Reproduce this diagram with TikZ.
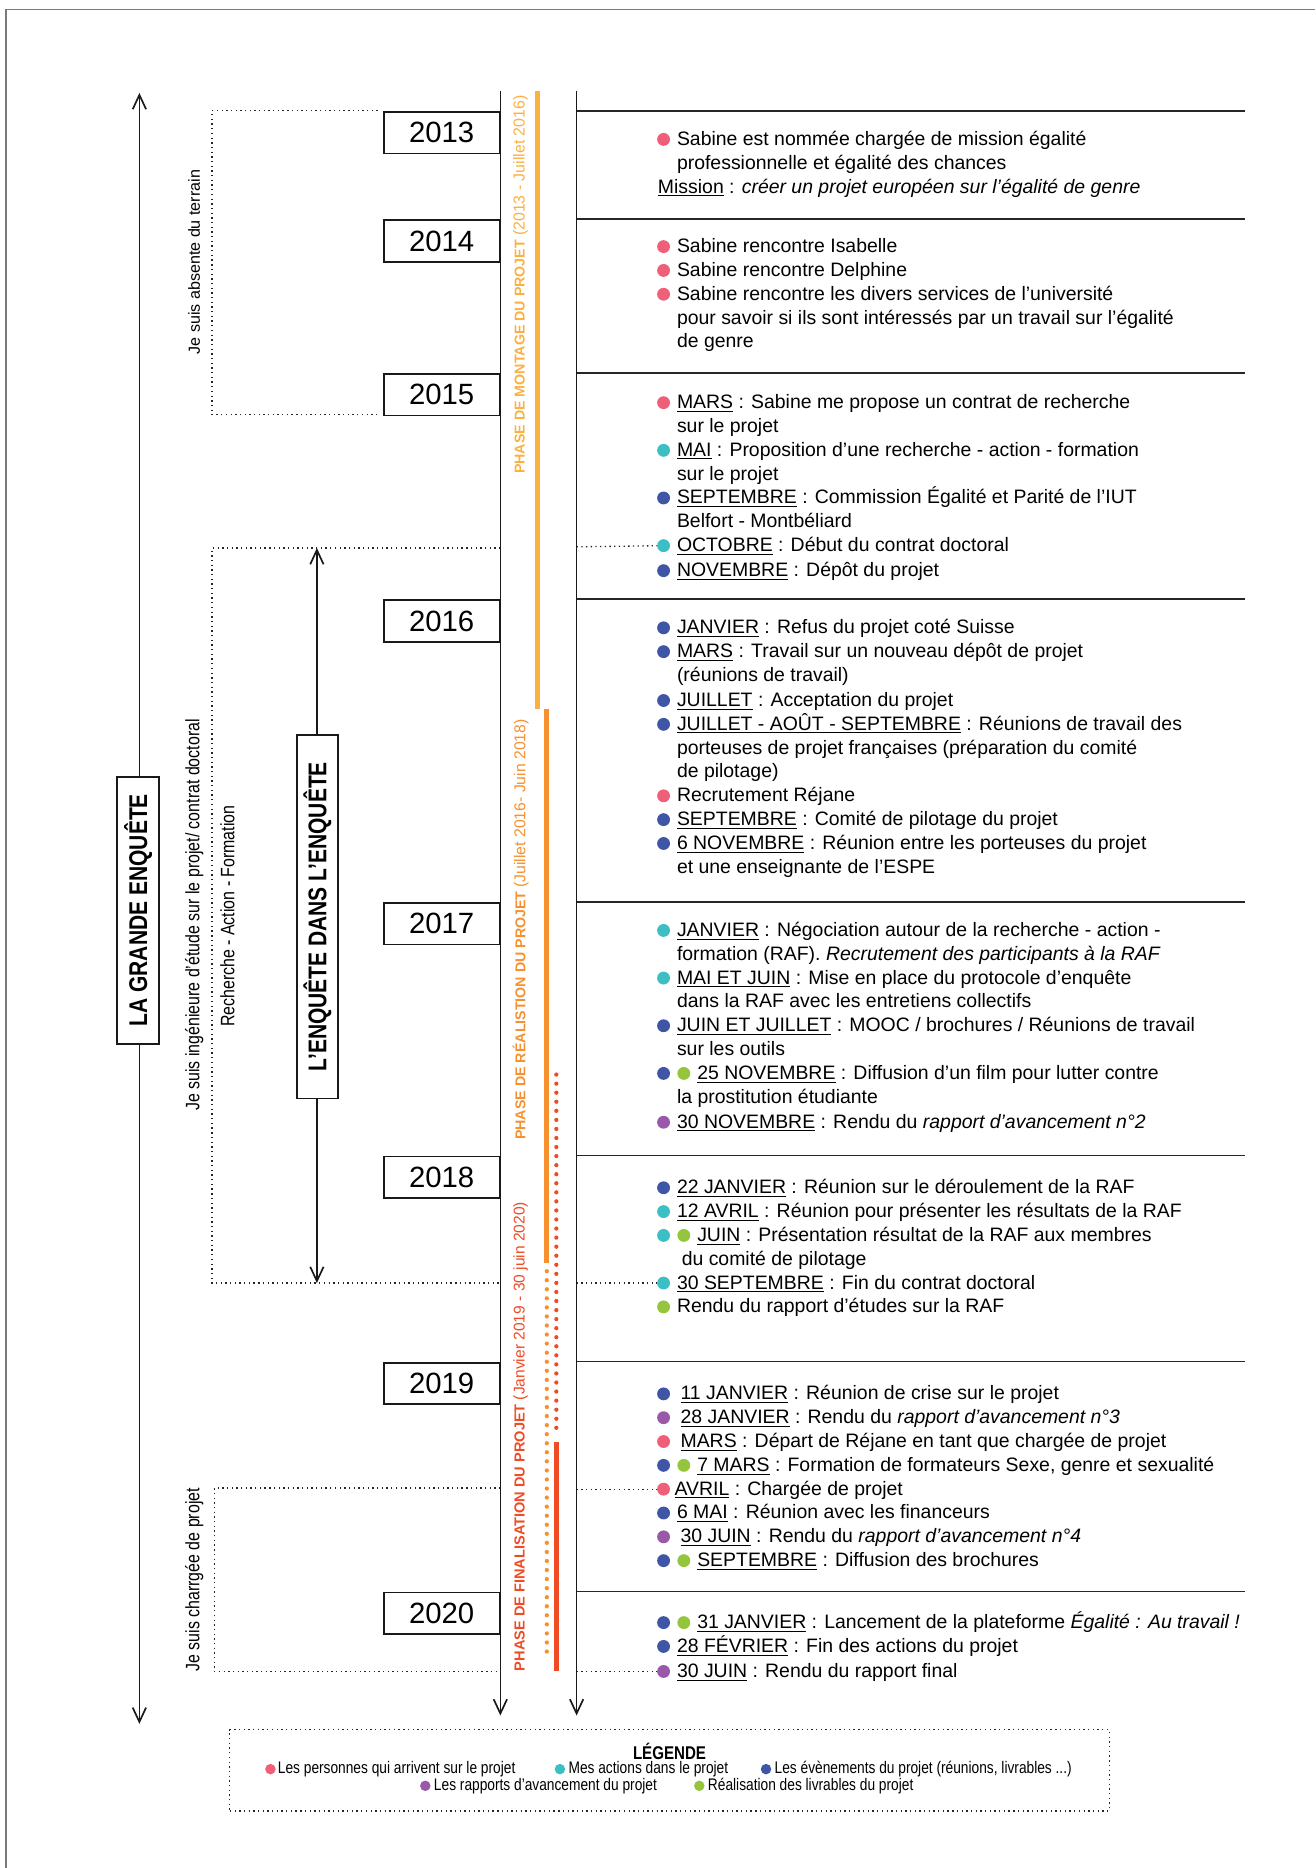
\documentclass[tikz,border=0pt]{standalone}
\usepackage{fontspec}
\setmainfont{Liberation Sans}
\newfontfamily\narrowfont{Liberation Sans}[FakeStretch=0.82]
\usetikzlibrary{arrows.meta}

\definecolor{perso}{HTML}{EF5F78}
\definecolor{action}{HTML}{3CBFC4}
\definecolor{event}{HTML}{3F56A6}
\definecolor{rapport}{HTML}{9A59A8}
\definecolor{livrable}{HTML}{95C53C}
\definecolor{montage}{HTML}{FBB040}
\definecolor{realis}{HTML}{F7902F}
\definecolor{final}{HTML}{EF4B24}
\definecolor{cadre}{HTML}{7A7A7A}

% une ligne de texte = 20 unites (0.5cm)
\tikzset{
  yearbox/.style={draw=black!90,line width=1.1pt,fill=white,minimum width=2.425cm,
    minimum height=0.875cm,inner sep=0pt,anchor=north east,font=\fontsize{17.5}{18}\selectfont},
  entry/.style={anchor=base west,align=left,inner sep=0pt,font=\fontsize{11.6}{14.226}\selectfont},
  bul/.style={circle,fill=#1,minimum size=0.27cm,inner sep=0pt},
  lbul/.style={circle,fill=#1,minimum size=0.22cm,inner sep=0pt},
  legtext/.style={anchor=west,inner sep=0pt,font=\narrowfont\fontsize{10}{11}\selectfont},
  rule/.style={line width=0.9pt,black!85},
  dotrule/.style={dotted,line width=0.8pt,black!85},
  axis/.style={->,line width=1pt,black!90},
  phasebar/.style={line width=0.1cm,#1},
  phasedots/.style={line width=0.09cm,#1,line cap=round,dash pattern=on 0pt off 0.19cm},
  phasetext/.style={rotate=90,anchor=west,inner sep=0pt,text=#1},
  sidebox/.style={draw=black!90,line width=1.1pt,fill=white,rotate=90,inner sep=0pt,
    minimum height=0.875cm,font=\narrowfont\bfseries\fontsize{15.3}{16}\selectfont},
  sidelabel/.style={rotate=90,inner sep=0pt,font=\narrowfont\fontsize{11.6}{12}\selectfont},
}

\begin{document}
\begin{tikzpicture}[x=0.025cm,y=-0.025cm,>={Straight Barb[length=3mm,width=2.8mm]}]
  \useasboundingbox (0,0) rectangle (1104,1568);
  \draw[cadre,line width=0.9pt] (1104,8) -- (5,8) -- (5,1568);

  % axes du temps
  \coordinate (axgtop) at (420,76);
  \coordinate (axgbot) at (420,1440);
  \coordinate (axdtop) at (484,76);
  \coordinate (axdbot) at (484,1440);
  \draw[axis] (axgtop) -- (axgbot);
  \draw[axis] (axdtop) -- (axdbot);

  \foreach \yr/\yy in {2013/93,2014/184,2015/313,2016/503,2017/757,2018/970,2019/1143,2020/1336} {
    \node[yearbox] (y\yr) at (420,\yy) {\yr};
    \draw[rule] (484,\yy) -- (1045,\yy);
  }

  % la grande enquete
  \coordinate (gtop) at (117,78);
  \coordinate (gbot) at (117,1447);
  \draw[<->,line width=1pt,black!90] (gtop) -- (gbot);
  \node[sidebox,minimum width=5.6cm] (grande) at (116,764) {LA GRANDE ENQUÊTE};

  % l'enquete dans l'enquete
  \coordinate (etop) at (266,460);
  \coordinate (ebot) at (266,1077);
  \draw[<->,line width=1pt,black!90] (etop) -- (ebot);
  \node[sidebox,minimum width=7.625cm] (enquete) at (266.5,769.5) {L’ENQUÊTE DANS L’ENQUÊTE};

  % phases
  \draw[phasebar=montage] (451,76) -- (451,595);
  \draw[phasebar=realis] (459,595) -- (459,1060);
  \draw[phasedots=realis] (459,1067) -- (459,1393);
  \draw[phasedots=final] (467,902) -- (467,1204);
  \draw[phasebar=final] (467,1210) -- (467,1403);
  \node[phasetext=montage] (ph1) at (437,398)
    {\fontsize{8.5}{9}\selectfont\bfseries PHASE DE MONTAGE DU PROJET \fontsize{9.5}{9}\mdseries(2013 - Juillet 2016)};
  \node[phasetext=realis] (ph2) at (437,957)
    {\fontsize{8.5}{9}\selectfont\bfseries PHASE DE RÉALISTION DU PROJET \fontsize{9.4}{9}\mdseries(Juillet 2016- Juin 2018)};
  \node[phasetext=final] (ph3) at (437,1403)
    {\fontsize{8.7}{9}\selectfont\bfseries PHASE DE FINALISATION DU PROJET \fontsize{9.3}{9}\mdseries(Janvier 2019 - 30 juin 2020)};

  % 2013
  \node[bul=perso] (p13a) at (557,117) {};
  \node[entry] (t13a) at (568,142) {Sabine est nommée chargée de mission égalité\\professionnelle et égalité des chances};
  \node[entry] (t13b) at (552,162) {\underline{Mission} : \textit{créer un projet européen sur l’égalité de genre}};
  % 2014
  \node[bul=perso] (p14a) at (557,207) {};
  \node[entry] (t14a) at (568,212) {Sabine rencontre Isabelle};
  \node[bul=perso] (p14b) at (557,227) {};
  \node[entry] (t14b) at (568,232) {Sabine rencontre Delphine};
  \node[bul=perso] (p14c) at (557,247) {};
  \node[entry] (t14c) at (568,292) {Sabine rencontre les divers services de l’université\\pour savoir si ils sont intéressés par un travail sur l’égalité\\de genre};
  % 2015
  \node[bul=perso] (p15a) at (557,338) {};
  \node[entry] (t15a) at (568,363) {\underline{MARS} : Sabine me propose un contrat de recherche\\sur le projet};
  \node[bul=action] (p15b) at (557,378) {};
  \node[entry] (t15b) at (568,403) {\underline{MAI} : Proposition d’une recherche - action - formation\\sur le projet};
  \node[bul=event] (p15c) at (557,418) {};
  \node[entry] (t15c) at (568,443) {\underline{SEPTEMBRE} : Commission Égalité et Parité de l’IUT\\Belfort - Montbéliard};
  \node[bul=action] (p15d) at (557,458) {};
  \node[entry] (t15d) at (568,463) {\underline{OCTOBRE} : Début du contrat doctoral};
  \node[bul=event] (p15e) at (557,479) {};
  \node[entry] (t15e) at (568,484) {\underline{NOVEMBRE} : Dépôt du projet};
  % 2016
  \node[bul=event] (p16a) at (557,527) {};
  \node[entry] (t16a) at (568,532) {\underline{JANVIER} : Refus du projet coté Suisse};
  \node[bul=event] (p16b) at (557,547) {};
  \node[entry] (t16b) at (568,572) {\underline{MARS} : Travail sur un nouveau dépôt de projet\\(réunions de travail)};
  \node[bul=event] (p16c) at (557,588) {};
  \node[entry] (t16c) at (568,593) {\underline{JUILLET} : Acceptation du projet};
  \node[bul=event] (p16d) at (557,608) {};
  \node[entry] (t16d) at (568,653) {\underline{JUILLET - AOÛT - SEPTEMBRE} : Réunions de travail des\\porteuses de projet françaises (préparation du comité\\de pilotage)};
  \node[bul=perso] (p16e) at (557,668) {};
  \node[entry] (t16e) at (568,673) {Recrutement Réjane};
  \node[bul=event] (p16f) at (557,688) {};
  \node[entry] (t16f) at (568,693) {\underline{SEPTEMBRE} : Comité de pilotage du projet};
  \node[bul=event] (p16g) at (557,708) {};
  \node[entry] (t16g) at (568,733) {\underline{6 NOVEMBRE} : Réunion entre les porteuses du projet\\et une enseignante de l’ESPE};
  % 2017
  \node[bul=action] (p17a) at (557,781) {};
  \node[entry] (t17a) at (568,806) {\underline{JANVIER} : Négociation autour de la recherche - action -\\formation (RAF). \textit{Recrutement des participants à la RAF}};
  \node[bul=action] (p17b) at (557,821) {};
  \node[entry] (t17b) at (568,846) {\underline{MAI ET JUIN} : Mise en place du protocole d’enquête\\dans la RAF avec les entretiens collectifs};
  \node[bul=event] (p17c) at (557,861) {};
  \node[entry] (t17c) at (568,886) {\underline{JUIN ET JUILLET} : MOOC / brochures / Réunions de travail\\sur les outils};
  \node[bul=event] (p17d) at (557,901) {};
  \node[bul=livrable] (q17d) at (574,901) {};
  \node[entry] (t17d) at (568,926) {\hspace*{0.425cm}\underline{25 NOVEMBRE} : Diffusion d’un film pour lutter contre\\la prostitution étudiante};
  \node[bul=rapport] (p17e) at (557,942) {};
  \node[entry] (t17e) at (568,947) {\underline{30 NOVEMBRE} : Rendu du \textit{rapport d’avancement n°2}};
  % 2018
  \node[bul=event] (p18a) at (557,997) {};
  \node[entry] (t18a) at (568,1002) {\underline{22 JANVIER} : Réunion sur le déroulement de la RAF};
  \node[bul=action] (p18b) at (557,1017) {};
  \node[entry] (t18b) at (568,1022) {\underline{12 AVRIL} : Réunion pour présenter les résultats de la RAF};
  \node[bul=action] (p18c) at (557,1037) {};
  \node[bul=livrable] (q18c) at (574,1037) {};
  \node[entry] (t18c) at (568,1062) {\hspace*{0.425cm}\underline{JUIN} : Présentation résultat de la RAF aux membres\\\hspace*{0.1cm}du comité de pilotage};
  \node[bul=action] (p18d) at (557,1077) {};
  \node[entry] (t18d) at (568,1082) {\underline{30 SEPTEMBRE} : Fin du contrat doctoral};
  \node[bul=livrable] (p18e) at (557,1097) {};
  \node[entry] (t18e) at (568,1102) {Rendu du rapport d’études sur la RAF};
  % 2019
  \node[bul=event] (p19a) at (557,1170) {};
  \node[entry] (t19a) at (571,1175) {\underline{11 JANVIER} : Réunion de crise sur le projet};
  \node[bul=rapport] (p19b) at (557,1190) {};
  \node[entry] (t19b) at (571,1195) {\underline{28 JANVIER} : Rendu du \textit{rapport d’avancement n°3}};
  \node[bul=perso] (p19c) at (557,1210) {};
  \node[entry] (t19c) at (571,1215) {\underline{MARS} : Départ de Réjane en tant que chargée de projet};
  \node[bul=event] (p19d) at (557,1230) {};
  \node[bul=livrable] (q19d) at (574,1230) {};
  \node[entry] (t19d) at (585,1235) {\underline{7 MARS} : Formation de formateurs Sexe, genre et sexualité};
  \node[bul=perso] (p19e) at (557,1250) {};
  \node[entry] (t19e) at (566,1255) {\underline{AVRIL} : Chargée de projet};
  \node[bul=event] (p19f) at (557,1270) {};
  \node[entry] (t19f) at (568,1275) {\underline{6 MAI} : Réunion avec les financeurs};
  \node[bul=rapport] (p19g) at (557,1290) {};
  \node[entry] (t19g) at (571,1295) {\underline{30 JUIN} : Rendu du \textit{rapport d’avancement n°4}};
  \node[bul=event] (p19h) at (557,1310) {};
  \node[bul=livrable] (q19h) at (574,1310) {};
  \node[entry] (t19h) at (585,1315) {\underline{SEPTEMBRE} : Diffusion des brochures};
  % 2020
  \node[bul=event] (p20a) at (557,1362) {};
  \node[bul=livrable] (q20a) at (574,1362) {};
  \node[entry] (t20a) at (585,1367) {\underline{31 JANVIER} : Lancement de la plateforme \textit{Égalité : Au travail !}};
  \node[bul=event] (p20b) at (557,1382) {};
  \node[entry] (t20b) at (568,1387) {\underline{28 FÉVRIER} : Fin des actions du projet};
  \node[bul=rapport] (p20c) at (557,1403) {};
  \node[entry] (t20c) at (568,1408) {\underline{30 JUIN} : Rendu du rapport final};

  % periodes (pointilles)
  \draw[dotrule] (317,93) -- (178,93) -- (178,348) -- (317,348);
  \node[sidelabel,font=\fontsize{9.6}{10}\selectfont] (absente) at (163,220) {Je suis absente du terrain};

  \draw[dotrule] (420,460) -- (178,460) -- (178,1077) -- (420,1077);
  \draw[dotrule] (484,459) -- (p15d);
  \draw[dotrule] (484,1077) -- (p18d);
  \node[sidelabel] (ingenieure) at (163,768) {Je suis ingénieure d’étude sur le projet/ contrat doctoral};
  \node[sidelabel] (raf) at (191,769) {Recherche - Action - Formation};

  \draw[dotrule] (420,1249) -- (180,1249) -- (180,1403) -- (420,1403);
  \draw[dotrule] (484,1250) -- (p19e);
  \draw[dotrule] (484,1403) -- (p20c);
  \node[sidelabel] (chargee) at (163,1326) {Je suis charrgée de projet};

  % legende
  \node[draw=black!85,dotted,line width=0.8pt,minimum width=18.45cm,minimum height=1.7cm] (legende) at (562,1486) {};
  \node[font=\narrowfont\bfseries\fontsize{11}{11}\selectfont] (legtitre) at (562,1470) {LÉGENDE};
  \node[lbul=perso] (l1) at (227,1485) {};
  \node[legtext] (lt1) at (233,1485) {Les personnes qui arrivent sur le projet};
  \node[lbul=action] (l2) at (470,1485) {};
  \node[legtext] (lt2) at (477,1485) {Mes actions dans le projet};
  \node[lbul=event] (l3) at (643,1485) {};
  \node[legtext] (lt3) at (650,1485) {Les évènements du projet (réunions, livrables ...)};
  \node[lbul=rapport] (l4) at (357,1499) {};
  \node[legtext] (lt4) at (364,1499) {Les rapports d’avancement du projet};
  \node[lbul=livrable] (l5) at (587,1499) {};
  \node[legtext] (lt5) at (594,1499) {Réalisation des livrables du projet};
\end{tikzpicture}
\end{document}
